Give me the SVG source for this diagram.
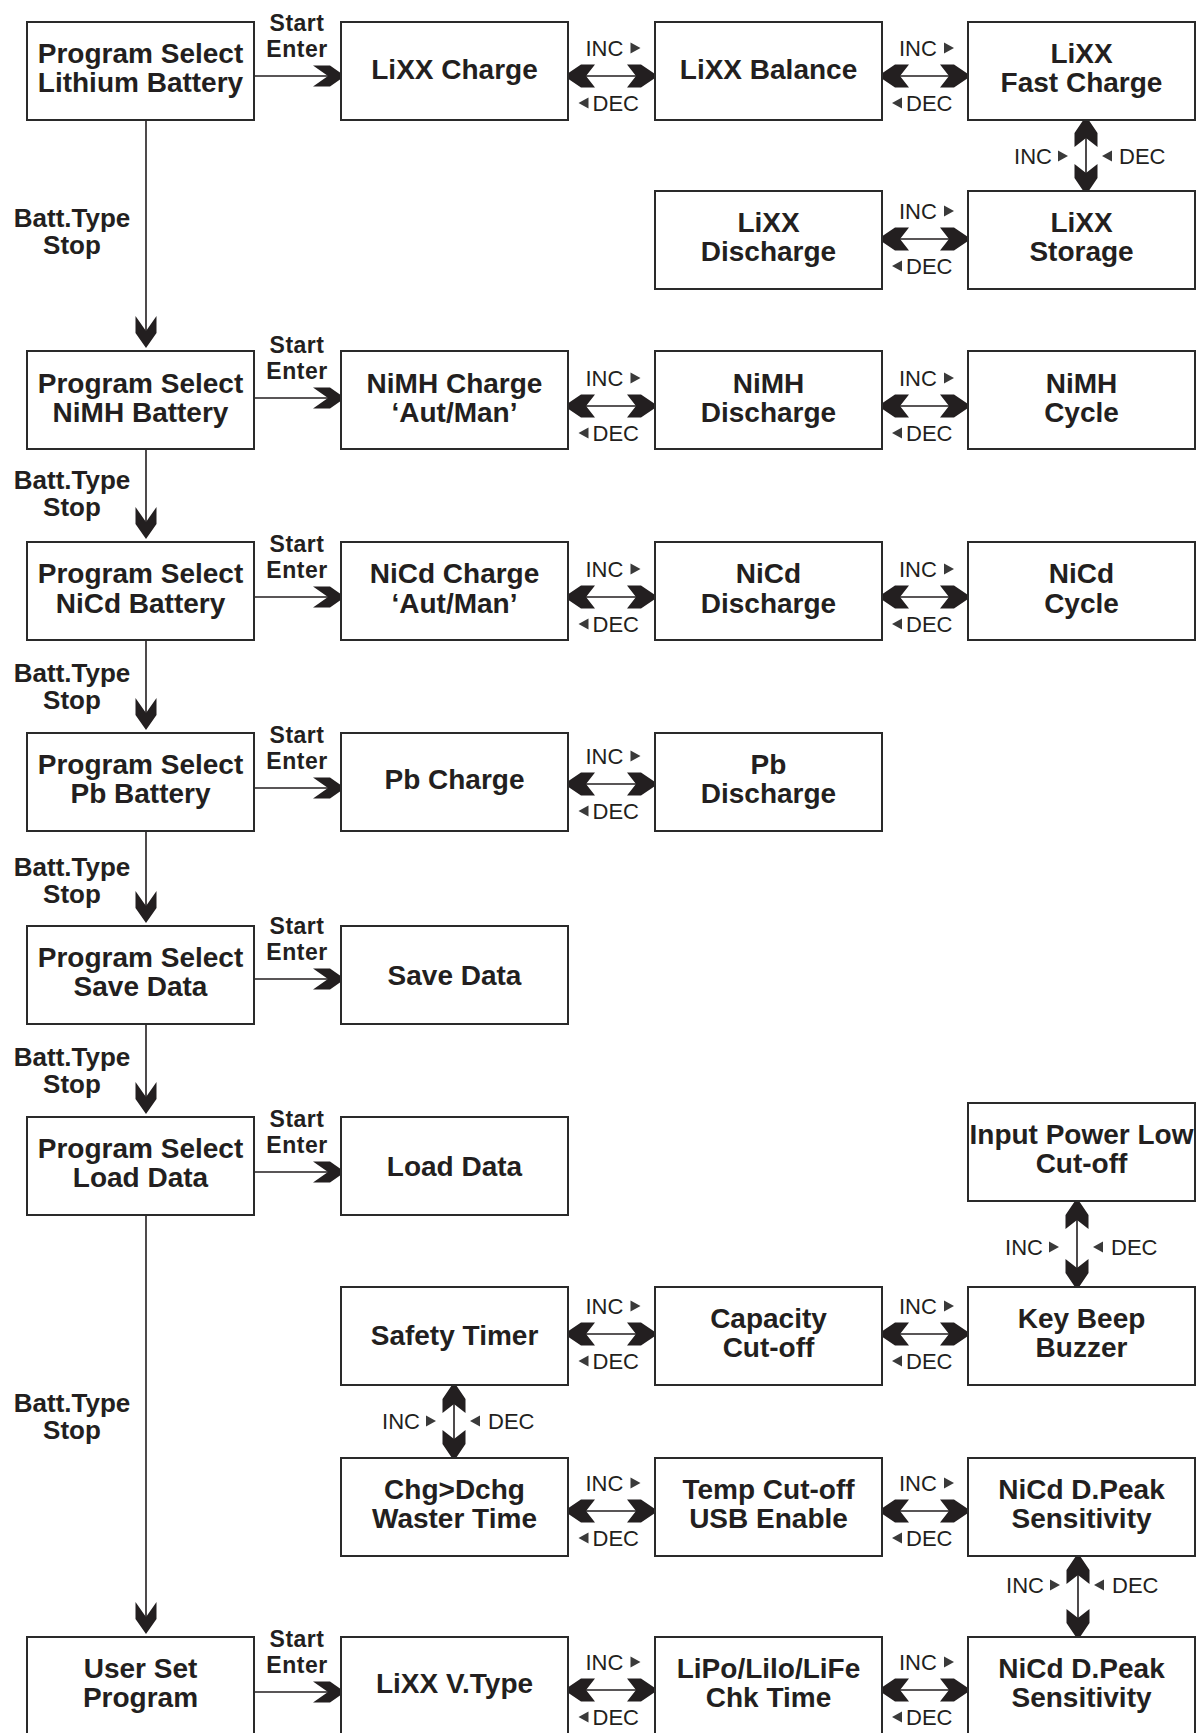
<svg xmlns="http://www.w3.org/2000/svg" xmlns:xlink="http://www.w3.org/1999/xlink" width="1202" height="1733" viewBox="0 0 1202 1733">
<style>
.box{fill:#fff;stroke:#2a2a2a;stroke-width:2}
.t{font-family:"Liberation Sans",Arial,sans-serif;font-weight:bold;font-size:28px;fill:#231f20;text-anchor:middle}
.se{font-family:"Liberation Sans",Arial,sans-serif;font-weight:bold;font-size:23px;fill:#231f20;text-anchor:middle;letter-spacing:0.5px}
.bt{font-family:"Liberation Sans",Arial,sans-serif;font-weight:bold;font-size:26px;fill:#231f20;text-anchor:middle}
.id{font-family:"Liberation Sans",Arial,sans-serif;font-size:22px;fill:#231f20}
.ie{font-family:"Liberation Sans",Arial,sans-serif;font-size:22px;fill:#231f20;text-anchor:end}
.tri{fill:#3a3a3a}
.ln{stroke:#231f20;stroke-width:1.6;fill:none}
.ah{fill:#231f20}
</style>
<defs>
<path id="sh" d="M0,0 L-15,-10.5 L-32,-10.5 L-17,0 L-32,10.5 L-15,10.5 Z"/>
<path id="dh" d="M0,0 L-17,-11.5 L-31,-11.5 L-22,0 L-31,11.5 L-17,11.5 Z"/>
</defs>
<rect width="1202" height="1733" fill="#fff"/>

<g id="connectors">
<path class="ln" d="M146,120 V340 M146,449 V531 M146,640 V722 M146,831 V915 M146,1024 V1106 M146,1215 V1626"/>
<g class="ah">
<use href="#sh" transform="translate(146,348) rotate(90)"/>
<use href="#sh" transform="translate(146,539) rotate(90)"/>
<use href="#sh" transform="translate(146,730) rotate(90)"/>
<use href="#sh" transform="translate(146,923) rotate(90)"/>
<use href="#sh" transform="translate(146,1114) rotate(90)"/>
<use href="#sh" transform="translate(146,1634) rotate(90)"/>
</g>
<g class="bt">
<text x="72" y="227">Batt.Type</text><text x="72" y="254">Stop</text>
<text x="72" y="489">Batt.Type</text><text x="72" y="516">Stop</text>
<text x="72" y="682">Batt.Type</text><text x="72" y="709">Stop</text>
<text x="72" y="876">Batt.Type</text><text x="72" y="903">Stop</text>
<text x="72" y="1066">Batt.Type</text><text x="72" y="1093">Stop</text>
<text x="72" y="1412">Batt.Type</text><text x="72" y="1439">Stop</text>
</g>
<path class="ln" d="M254,76 H335 M254,398 H335 M254,597 H335 M254,788 H335 M254,979 H335 M254,1172 H335 M254,1692 H335"/>
<g class="ah">
<use href="#sh" transform="translate(345,76)"/>
<use href="#sh" transform="translate(345,398)"/>
<use href="#sh" transform="translate(345,597)"/>
<use href="#sh" transform="translate(345,788)"/>
<use href="#sh" transform="translate(345,979)"/>
<use href="#sh" transform="translate(345,1172)"/>
<use href="#sh" transform="translate(345,1692)"/>
</g>
<g class="se">
<text x="297" y="31">Start</text><text x="297" y="57">Enter</text>
<text x="297" y="353">Start</text><text x="297" y="379">Enter</text>
<text x="297" y="552">Start</text><text x="297" y="578">Enter</text>
<text x="297" y="743">Start</text><text x="297" y="769">Enter</text>
<text x="297" y="934">Start</text><text x="297" y="960">Enter</text>
<text x="297" y="1127">Start</text><text x="297" y="1153">Enter</text>
<text x="297" y="1647">Start</text><text x="297" y="1673">Enter</text>
</g>
<path class="ln" d="M568,76 H655 M882,76 H968 M882,239 H968 M568,406 H655 M882,406 H968 M568,597 H655 M882,597 H968 M568,784 H655 M568,1334 H655 M882,1334 H968 M568,1511 H655 M882,1511 H968 M568,1690 H655 M882,1690 H968"/>
<g class="ah">
<use href="#dh" transform="translate(564,76) rotate(180)"/><use href="#dh" transform="translate(658,76)"/>
<use href="#dh" transform="translate(878,76) rotate(180)"/><use href="#dh" transform="translate(971,76)"/>
<use href="#dh" transform="translate(878,239) rotate(180)"/><use href="#dh" transform="translate(971,239)"/>
<use href="#dh" transform="translate(564,406) rotate(180)"/><use href="#dh" transform="translate(658,406)"/>
<use href="#dh" transform="translate(878,406) rotate(180)"/><use href="#dh" transform="translate(971,406)"/>
<use href="#dh" transform="translate(564,597) rotate(180)"/><use href="#dh" transform="translate(658,597)"/>
<use href="#dh" transform="translate(878,597) rotate(180)"/><use href="#dh" transform="translate(971,597)"/>
<use href="#dh" transform="translate(564,784) rotate(180)"/><use href="#dh" transform="translate(658,784)"/>
<use href="#dh" transform="translate(564,1334) rotate(180)"/><use href="#dh" transform="translate(658,1334)"/>
<use href="#dh" transform="translate(878,1334) rotate(180)"/><use href="#dh" transform="translate(971,1334)"/>
<use href="#dh" transform="translate(564,1511) rotate(180)"/><use href="#dh" transform="translate(658,1511)"/>
<use href="#dh" transform="translate(878,1511) rotate(180)"/><use href="#dh" transform="translate(971,1511)"/>
<use href="#dh" transform="translate(564,1690) rotate(180)"/><use href="#dh" transform="translate(658,1690)"/>
<use href="#dh" transform="translate(878,1690) rotate(180)"/><use href="#dh" transform="translate(971,1690)"/>
</g>
<g class="id">
<text x="585.5" y="56">INC</text><text x="592.5" y="111">DEC</text>
<text x="899" y="56">INC</text><text x="906" y="111">DEC</text>
<text x="899" y="219">INC</text><text x="906" y="274">DEC</text>
<text x="585.5" y="386">INC</text><text x="592.5" y="441">DEC</text>
<text x="899" y="386">INC</text><text x="906" y="441">DEC</text>
<text x="585.5" y="577">INC</text><text x="592.5" y="632">DEC</text>
<text x="899" y="577">INC</text><text x="906" y="632">DEC</text>
<text x="585.5" y="764">INC</text><text x="592.5" y="819">DEC</text>
<text x="585.5" y="1314">INC</text><text x="592.5" y="1369">DEC</text>
<text x="899" y="1314">INC</text><text x="906" y="1369">DEC</text>
<text x="585.5" y="1491">INC</text><text x="592.5" y="1546">DEC</text>
<text x="899" y="1491">INC</text><text x="906" y="1546">DEC</text>
<text x="585.5" y="1670">INC</text><text x="592.5" y="1725">DEC</text>
<text x="899" y="1670">INC</text><text x="906" y="1725">DEC</text>
</g>
<g class="tri">
<polygon points="630.5,42.5 640.5,48 630.5,53.5"/><polygon points="588.5,97.5 578.5,103 588.5,108.5"/>
<polygon points="944,42.5 954,48 944,53.5"/><polygon points="902,97.5 892,103 902,108.5"/>
<polygon points="944,205.5 954,211 944,216.5"/><polygon points="902,260.5 892,266 902,271.5"/>
<polygon points="630.5,372.5 640.5,378 630.5,383.5"/><polygon points="588.5,427.5 578.5,433 588.5,438.5"/>
<polygon points="944,372.5 954,378 944,383.5"/><polygon points="902,427.5 892,433 902,438.5"/>
<polygon points="630.5,563.5 640.5,569 630.5,574.5"/><polygon points="588.5,618.5 578.5,624 588.5,629.5"/>
<polygon points="944,563.5 954,569 944,574.5"/><polygon points="902,618.5 892,624 902,629.5"/>
<polygon points="630.5,750.5 640.5,756 630.5,761.5"/><polygon points="588.5,805.5 578.5,811 588.5,816.5"/>
<polygon points="630.5,1300.5 640.5,1306 630.5,1311.5"/><polygon points="588.5,1355.5 578.5,1361 588.5,1366.5"/>
<polygon points="944,1300.5 954,1306 944,1311.5"/><polygon points="902,1355.5 892,1361 902,1366.5"/>
<polygon points="630.5,1477.5 640.5,1483 630.5,1488.5"/><polygon points="588.5,1532.5 578.5,1538 588.5,1543.5"/>
<polygon points="944,1477.5 954,1483 944,1488.5"/><polygon points="902,1532.5 892,1538 902,1543.5"/>
<polygon points="630.5,1656.5 640.5,1662 630.5,1667.5"/><polygon points="588.5,1711.5 578.5,1717 588.5,1722.5"/>
<polygon points="944,1656.5 954,1662 944,1667.5"/><polygon points="902,1711.5 892,1717 902,1722.5"/>
</g>
<path class="ln" d="M1086,120 V191 M1077,1201 V1287 M454,1385 V1458 M1078,1556 V1637"/>
<g class="ah">
<use href="#dh" transform="translate(1086,116) rotate(-90)"/><use href="#dh" transform="translate(1086,195) rotate(90)"/>
<use href="#dh" transform="translate(1077,1198) rotate(-90)"/><use href="#dh" transform="translate(1077,1290) rotate(90)"/>
<use href="#dh" transform="translate(454,1382) rotate(-90)"/><use href="#dh" transform="translate(454,1461) rotate(90)"/>
<use href="#dh" transform="translate(1078,1553) rotate(-90)"/><use href="#dh" transform="translate(1078,1640) rotate(90)"/>
</g>
<g class="ie">
<text x="1052" y="164">INC</text>
<text x="1043" y="1255">INC</text>
<text x="420" y="1429">INC</text>
<text x="1044" y="1593">INC</text>
</g>
<g class="id">
<text x="1119" y="164">DEC</text>
<text x="1111" y="1255">DEC</text>
<text x="488" y="1429">DEC</text>
<text x="1112" y="1593">DEC</text>
</g>
<g class="tri">
<polygon points="1058,150.5 1068,156 1058,161.5"/><polygon points="1112,150.5 1102,156 1112,161.5"/>
<polygon points="1049,1241.5 1059,1247 1049,1252.5"/><polygon points="1103,1241.5 1093,1247 1103,1252.5"/>
<polygon points="426,1415.5 436,1421 426,1426.5"/><polygon points="480,1415.5 470,1421 480,1426.5"/>
<polygon points="1050,1579.5 1060,1585 1050,1590.5"/><polygon points="1104,1579.5 1094,1585 1104,1590.5"/>
</g>
</g>

<g id="n_li_sel"><rect class="box" x="27" y="22" width="227" height="98"/><text class="t" x="140.5" y="63">Program Select</text><text class="t" x="140.5" y="92">Lithium Battery</text></g>
<g id="n_lixx_charge"><rect class="box" x="341" y="22" width="227" height="98"/><text class="t" x="454.5" y="79">LiXX Charge</text></g>
<g id="n_lixx_balance"><rect class="box" x="655" y="22" width="227" height="98"/><text class="t" x="768.5" y="79">LiXX Balance</text></g>
<g id="n_lixx_fast"><rect class="box" x="968" y="22" width="227" height="98"/><text class="t" x="1081.5" y="63">LiXX</text><text class="t" x="1081.5" y="92">Fast Charge</text></g>
<g id="n_lixx_discharge"><rect class="box" x="655" y="191" width="227" height="98"/><text class="t" x="768.5" y="232">LiXX</text><text class="t" x="768.5" y="261">Discharge</text></g>
<g id="n_lixx_storage"><rect class="box" x="968" y="191" width="227" height="98"/><text class="t" x="1081.5" y="232">LiXX</text><text class="t" x="1081.5" y="261">Storage</text></g>

<g id="n_nimh_sel"><rect class="box" x="27" y="351" width="227" height="98"/><text class="t" x="140.5" y="393">Program Select</text><text class="t" x="140.5" y="422">NiMH Battery</text></g>
<g id="n_nimh_charge"><rect class="box" x="341" y="351" width="227" height="98"/><text class="t" x="454.5" y="393">NiMH Charge</text><text class="t" x="454.5" y="422">‘Aut/Man’</text></g>
<g id="n_nimh_discharge"><rect class="box" x="655" y="351" width="227" height="98"/><text class="t" x="768.5" y="393">NiMH</text><text class="t" x="768.5" y="422">Discharge</text></g>
<g id="n_nimh_cycle"><rect class="box" x="968" y="351" width="227" height="98"/><text class="t" x="1081.5" y="393">NiMH</text><text class="t" x="1081.5" y="422">Cycle</text></g>

<g id="n_nicd_sel"><rect class="box" x="27" y="542" width="227" height="98"/><text class="t" x="140.5" y="583">Program Select</text><text class="t" x="140.5" y="613">NiCd Battery</text></g>
<g id="n_nicd_charge"><rect class="box" x="341" y="542" width="227" height="98"/><text class="t" x="454.5" y="583">NiCd Charge</text><text class="t" x="454.5" y="613">‘Aut/Man’</text></g>
<g id="n_nicd_discharge"><rect class="box" x="655" y="542" width="227" height="98"/><text class="t" x="768.5" y="583">NiCd</text><text class="t" x="768.5" y="613">Discharge</text></g>
<g id="n_nicd_cycle"><rect class="box" x="968" y="542" width="227" height="98"/><text class="t" x="1081.5" y="583">NiCd</text><text class="t" x="1081.5" y="613">Cycle</text></g>

<g id="n_pb_sel"><rect class="box" x="27" y="733" width="227" height="98"/><text class="t" x="140.5" y="774">Program Select</text><text class="t" x="140.5" y="803">Pb Battery</text></g>
<g id="n_pb_charge"><rect class="box" x="341" y="733" width="227" height="98"/><text class="t" x="454.5" y="789">Pb Charge</text></g>
<g id="n_pb_discharge"><rect class="box" x="655" y="733" width="227" height="98"/><text class="t" x="768.5" y="774">Pb</text><text class="t" x="768.5" y="803">Discharge</text></g>

<g id="n_save_sel"><rect class="box" x="27" y="926" width="227" height="98"/><text class="t" x="140.5" y="967">Program Select</text><text class="t" x="140.5" y="996">Save Data</text></g>
<g id="n_save"><rect class="box" x="341" y="926" width="227" height="98"/><text class="t" x="454.5" y="985">Save Data</text></g>

<g id="n_load_sel"><rect class="box" x="27" y="1117" width="227" height="98"/><text class="t" x="140.5" y="1158">Program Select</text><text class="t" x="140.5" y="1187">Load Data</text></g>
<g id="n_load"><rect class="box" x="341" y="1117" width="227" height="98"/><text class="t" x="454.5" y="1176">Load Data</text></g>

<g id="n_input_power"><rect class="box" x="968" y="1103" width="227" height="98"/><text class="t" x="1081.5" y="1144">Input Power Low</text><text class="t" x="1081.5" y="1173">Cut-off</text></g>
<g id="n_safety"><rect class="box" x="341" y="1287" width="227" height="98"/><text class="t" x="454.5" y="1345">Safety Timer</text></g>
<g id="n_capacity"><rect class="box" x="655" y="1287" width="227" height="98"/><text class="t" x="768.5" y="1328">Capacity</text><text class="t" x="768.5" y="1357">Cut-off</text></g>
<g id="n_keybeep"><rect class="box" x="968" y="1287" width="227" height="98"/><text class="t" x="1081.5" y="1328">Key Beep</text><text class="t" x="1081.5" y="1357">Buzzer</text></g>

<g id="n_chg_dchg"><rect class="box" x="341" y="1458" width="227" height="98"/><text class="t" x="454.5" y="1499">Chg&gt;Dchg</text><text class="t" x="454.5" y="1528">Waster Time</text></g>
<g id="n_temp"><rect class="box" x="655" y="1458" width="227" height="98"/><text class="t" x="768.5" y="1499">Temp Cut-off</text><text class="t" x="768.5" y="1528">USB Enable</text></g>
<g id="n_dpeak_1"><rect class="box" x="968" y="1458" width="227" height="98"/><text class="t" x="1081.5" y="1499">NiCd D.Peak</text><text class="t" x="1081.5" y="1528">Sensitivity</text></g>

<g id="n_user_set"><rect class="box" x="27" y="1637" width="227" height="98"/><text class="t" x="140.5" y="1678">User Set</text><text class="t" x="140.5" y="1707">Program</text></g>
<g id="n_vtype"><rect class="box" x="341" y="1637" width="227" height="98"/><text class="t" x="454.5" y="1693">LiXX V.Type</text></g>
<g id="n_chk_time"><rect class="box" x="655" y="1637" width="227" height="98"/><text class="t" x="768.5" y="1678">LiPo/Lilo/LiFe</text><text class="t" x="768.5" y="1707">Chk Time</text></g>
<g id="n_dpeak_2"><rect class="box" x="968" y="1637" width="227" height="98"/><text class="t" x="1081.5" y="1678">NiCd D.Peak</text><text class="t" x="1081.5" y="1707">Sensitivity</text></g>
</svg>
